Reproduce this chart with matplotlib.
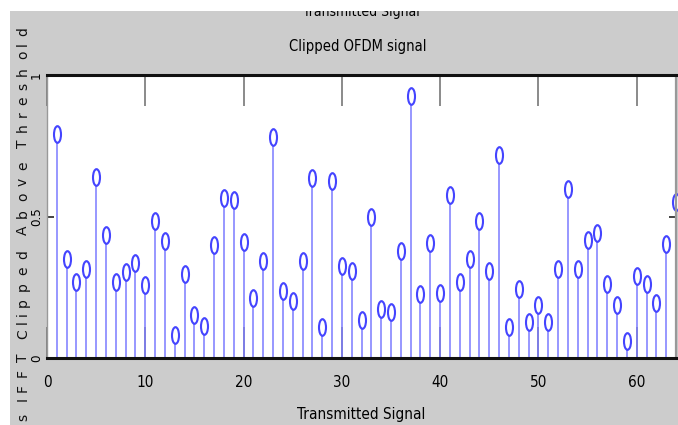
import matplotlib
matplotlib.use('Agg')
import matplotlib.pyplot as plt
import numpy as np
from matplotlib.path import Path
from matplotlib.transforms import Affine2D
from matplotlib.patches import Rectangle
from matplotlib.textpath import TextToPath
from matplotlib.font_manager import FontProperties

# sample index and clipped magnitude
n = list(range(1, 65))
amp = [0.79, 0.35, 0.268, 0.314, 0.64, 0.435, 0.268, 0.304, 0.335, 0.258,
       0.484, 0.413, 0.081, 0.297, 0.152, 0.113, 0.40, 0.565, 0.558, 0.41,
       0.212, 0.343, 0.781, 0.237, 0.201, 0.343, 0.636, 0.11, 0.625, 0.325,
       0.307, 0.134, 0.498, 0.173, 0.163, 0.378, 0.926, 0.226, 0.406, 0.23,
       0.576, 0.268, 0.35, 0.484, 0.307, 0.717, 0.11, 0.244, 0.127, 0.187,
       0.127, 0.314, 0.597, 0.314, 0.417, 0.442, 0.261, 0.187, 0.06, 0.29,
       0.261, 0.194, 0.403, 0.551]
xticks = [0, 10, 20, 30, 40, 50, 60]
yticks = [0, 0.5, 1]
ytick_labels = ['0', '0.5', '1']

narrow = dict(family=['DejaVu Sans'], stretch='condensed')

W, H = 678, 425
fig = plt.figure(figsize=(W / 100, H / 100), dpi=100, facecolor='#cccccc')
ax = fig.add_axes([47 / W, (H - 358) / H, 629 / W, 283 / H])
ax.set_facecolor('white')

# tall thin open marker
ell = Path.unit_circle().transformed(Affine2D().scale(0.42, 1.0))
ml, sl, bl = ax.stem(n, amp, basefmt=' ')
plt.setp(sl, color='#7a7aff', linewidth=1.1)
plt.setp(ml, marker=ell, markersize=12, markerfacecolor='white',
         markeredgecolor='#4444ff', markeredgewidth=1.5, clip_on=False)

ax.set_xlim(0, 64)
ax.set_ylim(0, 1)
ax.set_xticks(xticks)
ax.set_yticks(yticks)
ax.set_xticklabels([str(v) for v in xticks], fontsize=11, **narrow)
ax.set_yticklabels(ytick_labels, fontsize=9.5, rotation=90, va='center',
                   **narrow)
ax.tick_params(axis='x', direction='in', length=22, width=1.2, color='#777777',
               top=True, bottom=True, pad=12)
ax.tick_params(axis='y', direction='in', length=5, width=1.2, color='#222222',
               right=True, pad=3)

for s in ['top', 'bottom']:
    ax.spines[s].set_linewidth(2.2)
    ax.spines[s].set_color('#111111')
ax.spines['left'].set_color('#999999')
ax.spines['left'].set_linewidth(1)
ax.spines['right'].set_color('#999999')
ax.spines['right'].set_linewidth(1.6)

fig.text(358 / W, (H - 46) / H, 'Clipped OFDM signal', fontsize=10.5,
         ha='center', va='center', **narrow)
fig.text(361 / W, (H - 407) / H, 'Transmitted Signal', fontsize=11,
         ha='center', va='top', **narrow)
fig.text(361 / W, (H - 12) / H, 'Transmitted Signal', fontsize=10,
         ha='center', va='center', **narrow)

# spaced-out y label, one glyph at a time
label = 's IFFT Clipped Above Threshold'
fp = FontProperties(family='DejaVu Sans', size=10)
t2p = TextToPath()
widths = [t2p.get_text_width_height_descent(c if c != ' ' else 'i', fp, ismath=False)[0]
          for c in label]
y0, y1 = 417, 32
span = y0 - y1
tot = sum(widths) - widths[0] / 2 - widths[-1] / 2
pos = y0
for i, c in enumerate(label):
    if i > 0:
        pos -= (widths[i - 1] + widths[i]) / 2 * span / tot
    if c != ' ':
        fig.text(23 / W, (H - pos) / H, c, family='DejaVu Sans', fontsize=10,
                 rotation=90, ha='center', va='center', color='#111111')

# white strips of the screenshot edge
fig.add_artist(Rectangle((0, (H - 11) / H), 1, 11 / H, transform=fig.transFigure,
                         facecolor='white', edgecolor='none', zorder=20))
fig.add_artist(Rectangle((0, 0), 10 / W, 1, transform=fig.transFigure,
                         facecolor='white', edgecolor='none', zorder=20))

fig.savefig('out.png', dpi=100, facecolor=fig.get_facecolor())
